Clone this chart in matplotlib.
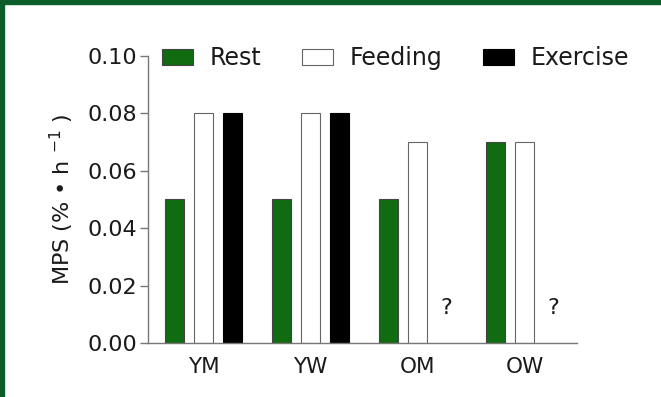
import numpy as np
import matplotlib
matplotlib.use("Agg")
import matplotlib.pyplot as plt
from matplotlib.patches import Rectangle

groups = ["YM", "YW", "OM", "OW"]
rest = [0.05, 0.05, 0.05, 0.07]
feeding = [0.08, 0.08, 0.07, 0.07]
exercise = [0.08, 0.08, np.nan, np.nan]
missing_label = ["", "", "?", "?"]

green = "#116b11"
border = "#0b5e2a"
axis_gray = "#777777"
text_col = "#1a1a1a"

fig = plt.figure(figsize=(6.61, 3.97), dpi=100)
ax = fig.add_axes([0.224, 0.136, 0.649, 0.723])

x = np.arange(len(groups))
step = 0.271
width = 0.178
ax.bar(x - step, rest, width, color=green, edgecolor="#444444", linewidth=0.8, label="Rest")
ax.bar(x, feeding, width, color="white", edgecolor="#666666", linewidth=0.8, label="Feeding")
ax.bar(x + step, exercise, width, color="black", edgecolor="black", linewidth=0.8, label="Exercise")

# placeholders where exercise data is missing
for xi, lab in zip(x, missing_label):
    if lab:
        ax.text(xi + step, 0.0122, lab, ha="center", va="center", fontsize=16, color=text_col)

ax.set_xlim(-0.52, 3.49)
ax.set_ylim(0, 0.10)
ax.set_yticks([0.0, 0.02, 0.04, 0.06, 0.08, 0.10])
ax.set_yticklabels(["0.00", "0.02", "0.04", "0.06", "0.08", "0.10"])
ax.set_xticks(x)
ax.set_xticklabels(groups)
ax.tick_params(axis="y", length=6, width=1, color=axis_gray, labelsize=16, pad=2,
               labelcolor=text_col)
ax.tick_params(axis="x", length=0, labelsize=15.5, pad=10, labelcolor=text_col)
ax.set_ylabel("MPS (% • h $^{-1}$ )", fontsize=16, labelpad=8, color=text_col)

for s in ["top", "right"]:
    ax.spines[s].set_visible(False)
for s in ["left", "bottom"]:
    ax.spines[s].set_color(axis_gray)
    ax.spines[s].set_linewidth(1)

leg = fig.legend(loc="center left", bbox_to_anchor=(0.245, 0.853), ncol=3, frameon=False,
                 fontsize=17, handlelength=1.31, handleheight=0.68, handletextpad=0.72,
                 columnspacing=1.7, borderpad=0, borderaxespad=0, labelcolor=text_col)

# dark green frame on top and left edges
fig.patches.append(Rectangle((0, 0), 0.0065, 1, transform=fig.transFigure, color=border, zorder=10))
fig.patches.append(Rectangle((0, 0.99), 1, 0.01, transform=fig.transFigure, color=border, zorder=10))

fig.savefig("out.png", dpi=100)
